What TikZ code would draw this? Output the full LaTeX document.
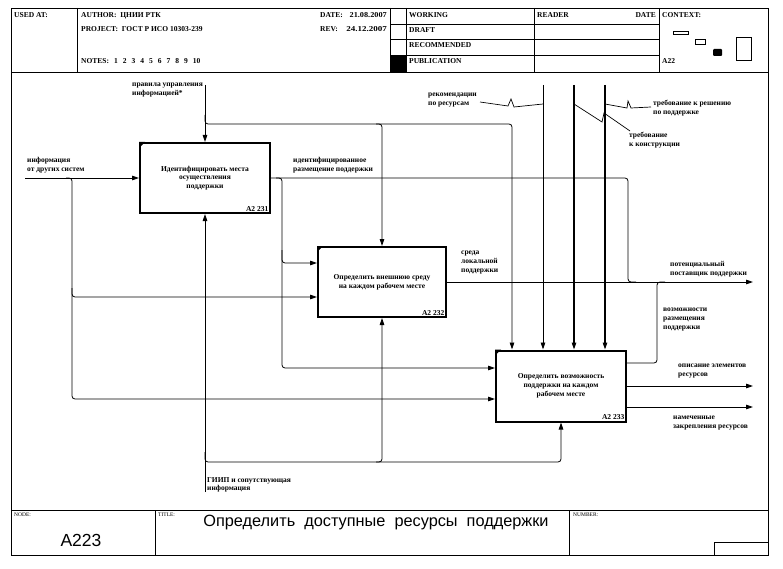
\documentclass[tikz,border=0pt]{standalone}
\usepackage{fontspec}
\setmainfont{Liberation Serif}
\newfontfamily\arialfont{Liberation Sans}
\usetikzlibrary{arrows.meta}
\begin{document}
\begin{tikzpicture}[x=1pt,y=-1pt,
  lbl/.style={font=\fontsize{7.5}{8.7}\selectfont\bfseries, align=left, inner sep=0pt, anchor=north west},
  hdr/.style={font=\fontsize{7.5}{8}\selectfont\bfseries, inner sep=0pt, anchor=base west},
  small/.style={font=\fontsize{5.5}{6}\selectfont, inner sep=0pt, anchor=base west},
  frm/.style={line width=0.9pt},
  actbox/.style={draw, line width=2pt, minimum height=70pt, align=center, inner sep=0pt, font=\fontsize{7.5}{8.7}\selectfont\bfseries},
  boxnum/.style={font=\fontsize{7.5}{8}\selectfont\bfseries, anchor=south east, inner sep=2.5pt},
  ln/.style={line width=0.8pt},
  arr/.style={ln, -{Triangle[length=7pt,width=4.5pt]}},
  rc/.style={rounded corners=3pt},
  sq/.style={line width=0.7pt},
]
\useasboundingbox[fill=white] (0,0) rectangle (783,569);
% ---------- frame ----------
\draw[frm] (11,8) rectangle (768,555);
\draw[frm] (11,72) -- (768,72);
\draw[frm] (11,510) -- (768,510);
\foreach \xx in {77,390,406,534,659} \draw[frm] (\xx,8) -- (\xx,72);
\foreach \yy in {24,39,55} \draw[frm] (390,\yy) -- (659,\yy);
\fill (390,55) rectangle (406,72);
\draw[frm] (155,510) -- (155,555);
\draw[frm] (569,510) -- (569,555);
\draw[frm] (714,542) rectangle (768,555);
% header texts
\node[hdr] (usedat) at (14,18) {USED AT:};
\node[hdr] (author) at (81,18) {AUTHOR:\ \ ЦНИИ РТК};
\node[hdr] (project) at (81,32) {PROJECT:\ \ ГОСТ Р ИСО 10303-239};
\node[hdr] (notes) at (81,64) {NOTES:\hspace{5pt}1\hspace{5pt}2\hspace{5pt}3\hspace{5pt}4\hspace{5pt}5\hspace{5pt}6\hspace{5pt}7\hspace{5pt}8\hspace{5pt}9\hspace{5pt}10};
\node[hdr] (datel) at (320,18) {DATE:};
\node[hdr, anchor=base east] (datev) at (387,18) {\scalebox{1.1}[1]{21.08.2007}};
\node[hdr] (revl) at (320,32) {REV:};
\node[hdr, anchor=base east] (revv) at (387,32) {\scalebox{1.2}[1]{24.12.2007}};
\node[hdr] (working) at (409,18) {WORKING};
\node[hdr] (draft) at (409,33) {DRAFT};
\node[hdr] (recom) at (409,48) {RECOMMENDED};
\node[hdr] (publ) at (409,64) {PUBLICATION};
\node[hdr] (reader) at (537,18) {READER};
\node[hdr, anchor=base east] (rdate) at (656,18) {DATE};
\node[hdr] (context) at (662,18) {CONTEXT:};
\node[hdr] (ctxnode) at (662,64) {A22};
% context sketch
\draw[line width=0.8pt] (673,31) rectangle (688,34);
\draw[line width=0.8pt] (695,39) rectangle (705,44);
\fill[rounded corners=1pt] (713,49) rectangle (722,56);
\draw[line width=0.8pt] (736,37) rectangle (751,60);
% footer
\node[small] (nodel) at (14,516) {NODE:};
\node[font=\arialfont\fontsize{17.5}{19}\selectfont, inner sep=0pt] (nodev) at (81,540) {A223};
\node[small] (titlel) at (158,516) {TITLE:};
\node[font=\arialfont\fontsize{16.3}{18}\selectfont, inner sep=0pt] (title) at (376,522) {Определить\ \ доступные\ \ ресурсы\ \ поддержки};
\node[small] (numberl) at (573,516) {NUMBER:};
% ---------- activity boxes ----------
\node[actbox, minimum width=130pt] (b1) at (205,178) {Идентифицировать места\\осуществления\\поддержки};
\node[actbox, minimum width=128pt] (b2) at (382,282) {Определить внешнюю среду\\на каждом рабочем месте};
\node[actbox, minimum width=130pt, minimum height=71pt] (b3) at (561,386) {Определить возможность\\поддержки на каждом\\рабочем месте};
\node[boxnum] (n1) at (b1.south east) {A2 231};
\node[boxnum] (n2) at (b2.south east) {A2 232};
\node[boxnum] (n3) at (b3.south east) {A2 233};
\foreach \b in {b1,b2,b3} \fill (\b.north west) -- ++(6,0) -- ++(-6,6) -- cycle;
% ---------- free ends ----------
\coordinate (inA) at (25,178);
\coordinate (ctA) at (205,85);
\coordinate (mcA) at (205,492);
\coordinate (t1) at (543,85);
\coordinate (t2) at (574,85);
\coordinate (t3) at (605,85);
\coordinate (o1) at (753,282);
\coordinate (o2) at (753,386);
\coordinate (o3) at (753,407);
\coordinate (k1) at (512,124);
\coordinate (k2) at (628,282);
\coordinate (k3) at (657,282);
\coordinate (k4) at (561,462);
% ---------- inputs ----------
\draw[arr] (inA) -- (b1.west);
\draw[arr,rc] (66,178) -| (72,300) |- ([yshift=-13pt]b3.west);
\draw[arr,rc] (72,288) |- ([yshift=-15pt]b2.west);
% ---------- controls ----------
\draw[arr] (ctA) -- (b1.north);
\draw[arr,rc] (205,115) |- (k1) -- (k1 |- b3.north);
\draw[arr,rc] (376,124) -| (b2.north);
\draw[arr, line width=0.9pt] (t1) -- (t1 |- b3.north);
\draw[arr, line width=1.1pt] (t2) -- (t2 |- b3.north);
\draw[arr, line width=1.1pt] (t3) -- (t3 |- b3.north);
% ---------- outputs ----------
\draw[ln,rc] (b1.east) -| (k2) -- ++(8,0);
\draw[arr,rc] (276,178) -| (282,250) |- ([yshift=19pt]b2.west);
\draw[arr,rc] (282,250) |- ([yshift=18pt]b3.west);
\draw[arr] (b2.east) -- (o1);
\draw[ln,rc] ([yshift=23pt]b3.east) -| (k3) -- ++(8,0);
\draw[arr] (b3.east) -- (o2);
\draw[arr] ([yshift=-21pt]b3.east) -- (o3);
% ---------- mechanisms ----------
\draw[arr] (mcA) -- (b1.south);
\draw[arr,rc] (205,452) |- (k4) -- (b3.south);
\draw[arr,rc] (376,462) -| (b2.south);
% ---------- squiggles ----------
\draw[sq] (480,102) -- (508,106) -- (511,99) -- (514,107) -- (543,104);
\draw[sq] (605,104) -- (627,108) -- (628,101) -- (631,108) -- (651,107);
\draw[sq] (574,104) -- (602,122) -- (604,113) -- (630,131);
% ---------- labels ----------
\node[lbl] (L1) at (27,157) {информация\\от других систем};
\node[lbl] (L2) at (132,83) {правила управления\\информацией*};
\node[lbl] (L3) at (293,157) {идентифицированное\\размещение поддержки};
\node[lbl] (L4) at (428,93) {рекомендации\\по ресурсам};
\node[lbl] (L5) at (653,100) {требование к решению\\по поддержке};
\node[lbl] (L6) at (629,132) {требование\\к конструкции};
\node[lbl] (L7) at (461,251) {среда\\локальной\\поддержки};
\node[lbl] (L8) at (670,261) {потенциальный\\поставщик поддержки};
\node[lbl] (L9) at (663,308) {возможности\\размещения\\поддержки};
\node[lbl] (L10) at (678,364) {описание элементов\\ресурсов};
\node[lbl] (L11) at (673,416) {намеченные\\закрепления ресурсов};
\node[lbl] (L12) at (207,477) {ГИИП и сопутствующая\\информация};
\end{tikzpicture}
\end{document}
